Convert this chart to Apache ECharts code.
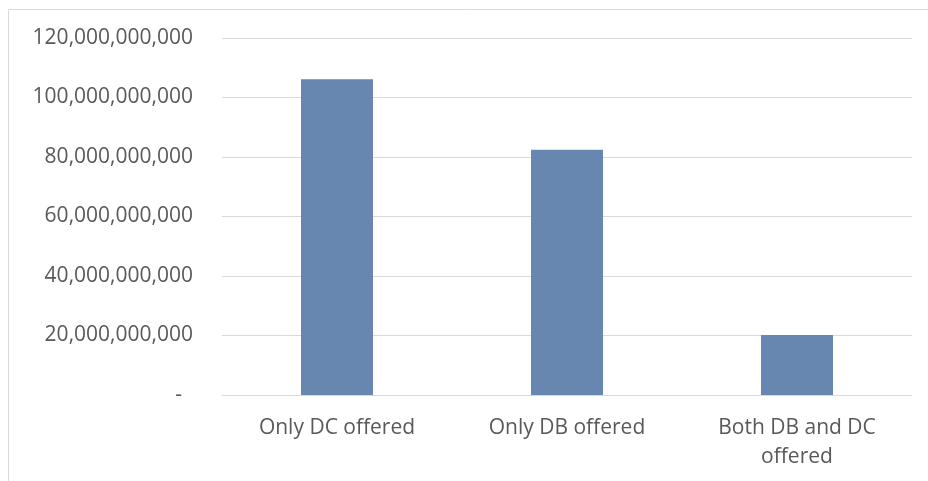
<!DOCTYPE html>
<html>
<head>
<meta charset="utf-8">
<script src="https://cdn.jsdelivr.net/npm/echarts@6/dist/echarts.min.js"></script>
<style>
  html, body { margin: 0; padding: 0; background: #fff; }
  #main { width: 928px; height: 481px; }
</style>
</head>
<body>
<div id="main"></div>
<script>
// plan types on the x axis
let categories = ['Only DC offered', 'Only DB offered', 'Both DB and DC\noffered'];
// values
let values = [106100000000, 82400000000, 20200000000];

let chart = echarts.init(document.getElementById('main'), null, { renderer: 'canvas' });

let fontFamily = '"Open Sans", "Noto Sans", sans-serif';

let option = {
  animation: false,
  graphic: [
    {
      type: 'rect',
      shape: { x: 8.5, y: 9.5, width: 940, height: 490 },
      style: { fill: 'none', stroke: '#d9d9d9', lineWidth: 1 },
      silent: true
    }
  ],
  grid: {
    left: 222,
    right: 16,
    top: 38,
    bottom: 86
  },
  xAxis: {
    type: 'category',
    data: categories,
    axisTick: { show: false },
    axisLine: { lineStyle: { color: '#d9d9d9', width: 1 } },
    axisLabel: {
      color: '#595959',
      fontSize: 21,
      fontFamily: fontFamily,
      margin: 19,
      lineHeight: 29,
      interval: 0
    }
  },
  yAxis: {
    type: 'value',
    min: 0,
    max: 120000000000,
    interval: 20000000000,
    axisLine: { show: false },
    axisTick: { show: false },
    splitLine: { lineStyle: { color: '#d9d9d9', width: 1 } },
    axisLabel: {
      color: '#595959',
      fontSize: 21,
      fontFamily: fontFamily,
      margin: 29,
      formatter: function (v) {
        if (v === 0) return '-  ';
        return v.toLocaleString('en-US');
      }
    }
  },
  series: [
    {
      type: 'bar',
      data: values,
      barWidth: '31.3%',
      itemStyle: { color: '#6787b0' }
    }
  ]
};

chart.setOption(option);
</script>
</body>
</html>
